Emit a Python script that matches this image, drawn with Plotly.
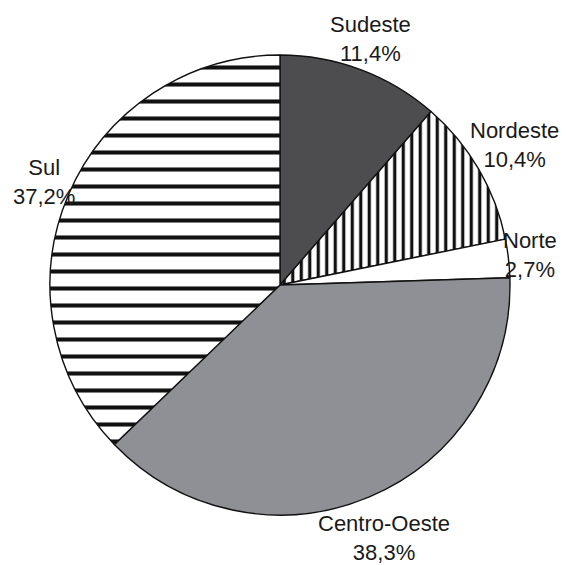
import math
import plotly.graph_objects as go

regions = ["Sudeste", "Nordeste", "Norte", "Centro-Oeste", "Sul"]
shares = [11.4, 10.4, 2.7, 38.3, 37.2]
fill_colors = ["#4d4d4f", "#ffffff", "#ffffff", "#8f9095", "#ffffff"]
pattern_shapes = ["", "|", "", "", "-"]
pattern_sizes = [8, 8.5, 8, 8, 17]
pattern_solidity = [0.3, 0.38, 0.3, 0.3, 0.24]

PAGE_OFFSET = 8            # default body margin of the html page
W, H = 567 - PAGE_OFFSET, 565 - PAGE_OFFSET
CX, CY, R = 280 - PAGE_OFFSET, 285 - PAGE_OFFSET, 230  # pie centre / radius (figure px)
RX_LABEL, RY_LABEL = 222, 228   # radii used for placing the outside labels
FONT_SIZE = 22
GAP = 0

fig = go.Figure(
    go.Pie(
        labels=regions,
        values=shares,
        sort=False,
        direction="clockwise",
        rotation=0,
        marker=dict(
            colors=fill_colors,
            line=dict(color="#111111", width=1.4),
            pattern=dict(
                shape=pattern_shapes,
                size=pattern_sizes,
                solidity=pattern_solidity,
                fgcolor="#111111",
                bgcolor=fill_colors,
                fillmode="replace",
            ),
        ),
        textinfo="none",
        showlegend=False,
        hoverinfo="label+value",
        domain=dict(x=[(CX - R) / W, (CX + R) / W], y=[(H - CY - R) / H, (H - CY + R) / H]),
    )
)

# labels placed outside each slice at its mid-angle
total = sum(shares)
cum = 0.0
annotations = []
for name, v in zip(regions, shares):
    mid = (cum + v / 2) / total * 2 * math.pi
    cum += v
    pct = f"{v:.1f}".replace(".", ",") + "%"
    half_w = 0.5 * max(len(name), len(pct)) * 0.5 * FONT_SIZE
    half_h = 1.05 * FONT_SIZE
    s, c = math.sin(mid), math.cos(mid)
    ext = GAP + abs(s) * half_w + abs(c) * half_h
    px = CX + (RX_LABEL + ext) * s
    py = CY - (RY_LABEL + ext) * c
    annotations.append(
        dict(
            x=px / W,
            y=1 - py / H,
            xref="paper",
            yref="paper",
            text=f"{name}<br>{pct}",
            showarrow=False,
            xanchor="center",
            yanchor="middle",
            align="center",
            font=dict(family="Liberation Sans, Arial, sans-serif", size=FONT_SIZE, color="#1a1a1a"),
        )
    )

fig.update_layout(
    width=W,
    height=H,
    margin=dict(l=0, r=0, t=0, b=0),
    paper_bgcolor="white",
    plot_bgcolor="white",
    separators=",.",
    annotations=annotations,
)

fig.write_html("out.html")
